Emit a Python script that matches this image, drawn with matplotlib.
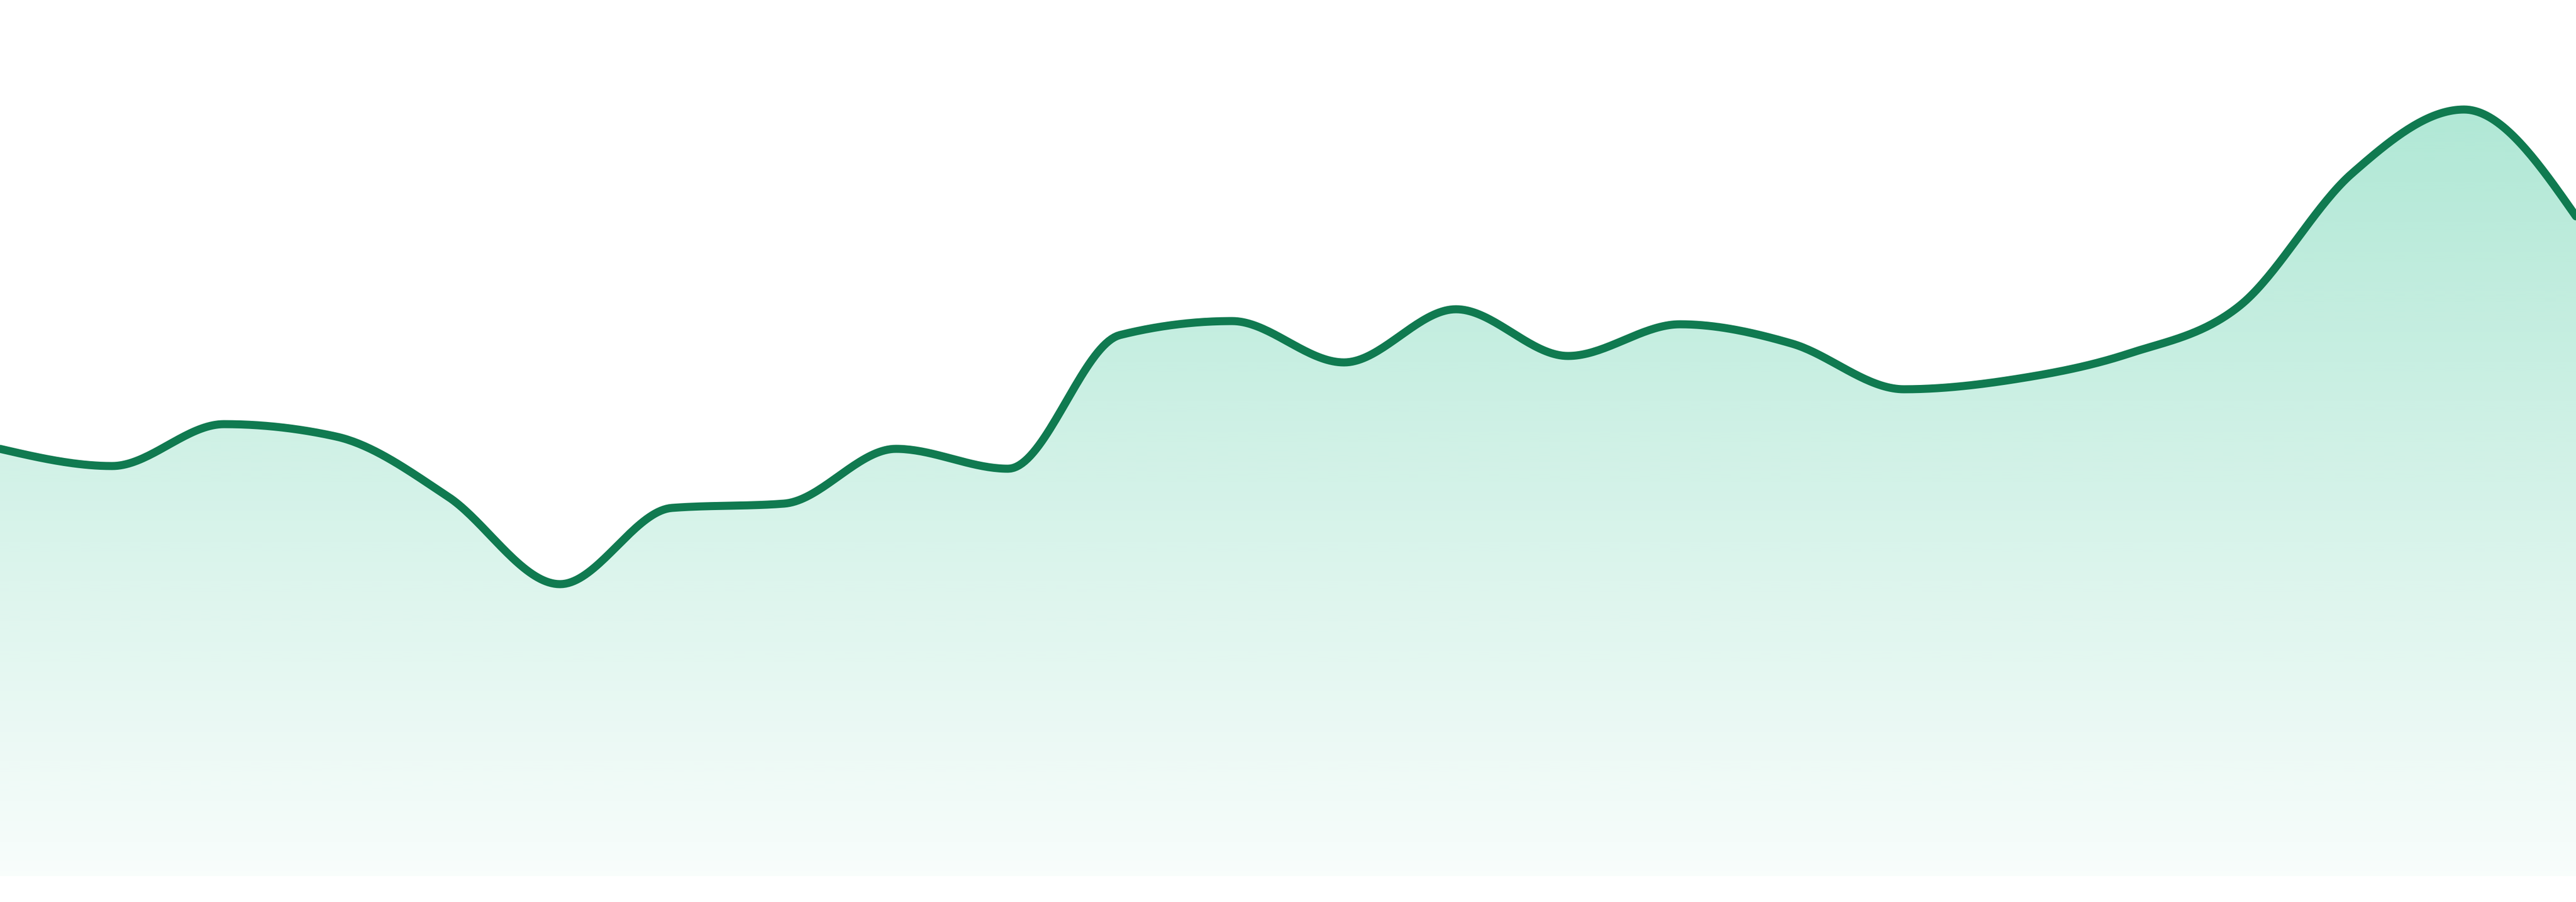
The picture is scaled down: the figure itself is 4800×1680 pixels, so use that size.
import numpy as np
import matplotlib
matplotlib.use('Agg')
import matplotlib.pyplot as plt
from matplotlib.patches import Polygon

# series values (one point per step, evenly spaced)
values = [79.6, 76.4, 84.2, 81.9, 70.7, 54.4, 68.6, 69.4, 79.6, 75.9,
          100.8, 103.4, 95.7, 105.6, 96.9, 102.8, 99.2, 90.7, 92.6, 97.3,
          106.3, 130.9, 142.8, 122.9]
steps = list(range(len(values)))

LINE_COLOR = '#107a50'
FILL_RGB = (16/255, 185/255, 129/255)


def monotone_x(x, y, n=40):
    # monotone cubic interpolation (same idea as d3 curveMonotoneX)
    x = np.asarray(x, float)
    y = np.asarray(y, float)
    h = np.diff(x)
    s = np.diff(y) / h
    t = np.zeros(len(x))
    for i in range(1, len(x) - 1):
        s0, s1 = s[i - 1], s[i]
        p = (s0 * h[i] + s1 * h[i - 1]) / (h[i - 1] + h[i])
        t[i] = (np.sign(s0) + np.sign(s1)) * min(abs(s0), abs(s1), 0.5 * abs(p))
    t[0] = (3 * s[0] - t[1]) / 2
    t[-1] = (3 * s[-1] - t[-2]) / 2
    xs, ys = [], []
    for i in range(len(x) - 1):
        u = np.linspace(0, 1, n, endpoint=False)
        h00 = 2*u**3 - 3*u**2 + 1
        h10 = u**3 - 2*u**2 + u
        h01 = -2*u**3 + 3*u**2
        h11 = u**3 - u**2
        xs.append(x[i] + u * h[i])
        ys.append(h00*y[i] + h10*h[i]*t[i] + h01*y[i+1] + h11*h[i]*t[i+1])
    xs.append([x[-1]])
    ys.append([y[-1]])
    return np.concatenate(xs), np.concatenate(ys)


fig = plt.figure(figsize=(48, 16.8), dpi=100)
ax = fig.add_axes([0, 48/1680, 1, 1632/1680])
ax.set_xlim(steps[0], steps[-1])
ax.set_ylim(0, 163.2)
ax.axis('off')

cx, cy = monotone_x(steps, values)

# vertical gradient under the curve
top = max(values)
alpha = np.linspace(0.33, 0.03, 256).reshape(-1, 1)
grad = np.zeros((256, 1, 4))
grad[..., 0], grad[..., 1], grad[..., 2] = FILL_RGB
grad[..., 3] = alpha
img = ax.imshow(grad, extent=[steps[0], steps[-1], 0, top], origin='upper',
                aspect='auto', interpolation='bilinear', zorder=1)
verts = np.column_stack([np.r_[cx, cx[-1], cx[0]], np.r_[cy, 0, 0]])
clip = Polygon(verts, closed=True, transform=ax.transData, facecolor='none', edgecolor='none')
ax.add_patch(clip)
img.set_clip_path(clip)

ax.plot(cx, cy, color=LINE_COLOR, lw=10.8, solid_joinstyle='round',
        solid_capstyle='round', zorder=3)

fig.savefig('out.png', dpi=100)
